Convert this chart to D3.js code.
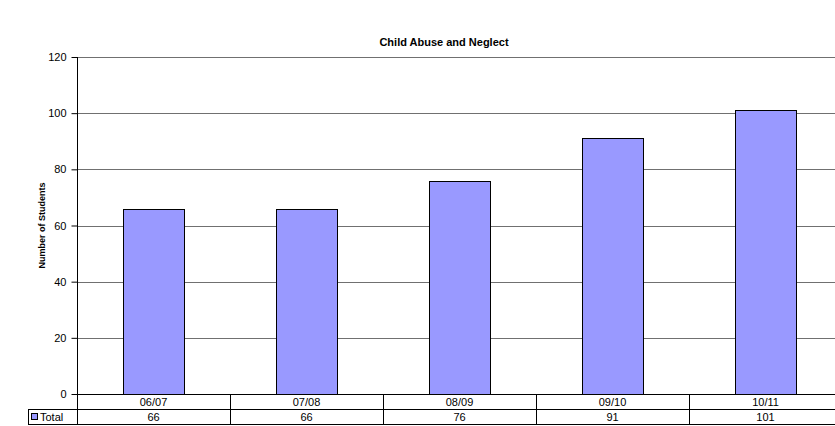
<!DOCTYPE html>
<html>
<head>
<meta charset="utf-8">
<script src="https://cdn.jsdelivr.net/npm/d3@7"></script>
<style>
  body { margin: 0; background: #fff; overflow: hidden; }
  svg { font-family: "Liberation Sans", Arial, sans-serif; }
</style>
</head>
<body>
<script>
var categories = ["06/07", "07/08", "08/09", "09/10", "10/11"];
var totals = [66, 66, 76, 91, 101];
var yTicks = [0, 20, 40, 60, 80, 100, 120];
var seriesName = "Total";

var W = 835, H = 426;
// plot area runs a little past the right edge, as in the original
var margin = {top: 57, right: -7, bottom: 32, left: 77},
    width = W - margin.left - margin.right,
    height = H - margin.top - margin.bottom;

var svg = d3.select("body").append("svg")
    .attr("width", W)
    .attr("height", H);

var g = svg.append("g")
    .attr("transform", "translate(" + margin.left + "," + margin.top + ")");

var x = d3.scaleBand()
    .domain(categories)
    .range([0, width])
    .paddingInner(0.6)
    .paddingOuter(0.3);

var xCol = d3.scaleBand()
    .domain(categories)
    .range([0, width]);

var y = d3.scaleLinear()
    .domain([0, 120])
    .range([height, 0]);

// title
svg.append("text")
    .attr("x", 444)
    .attr("y", 46)
    .attr("text-anchor", "middle")
    .style("font-size", "11px")
    .style("font-weight", "bold")
    .text("Child Abuse and Neglect");

// y axis title
svg.append("text")
    .attr("transform", "translate(45," + (margin.top + height / 2) + ") rotate(-90)")
    .attr("text-anchor", "middle")
    .style("font-size", "9px")
    .style("font-weight", "bold")
    .text("Number of Students");

// gridlines
g.selectAll(".grid")
    .data(yTicks.filter(d => d > 0))
    .enter()
    .append("line")
    .attr("class", "grid")
    .attr("x1", 0)
    .attr("x2", width)
    .attr("y1", d => Math.round(y(d)) + 0.5)
    .attr("y2", d => Math.round(y(d)) + 0.5)
    .attr("stroke", "#707070")
    .attr("stroke-width", 1);

// y axis
var yAxis = d3.axisLeft(y)
    .tickValues(yTicks)
    .tickSize(6)
    .tickPadding(5);

var yG = g.append("g")
    .attr("transform", "translate(0.5,0)")
    .call(yAxis);
yG.select(".domain").attr("d", "M0," + height + "V0").attr("stroke", "#000");
yG.selectAll(".tick line").attr("stroke", "#000");
yG.selectAll(".tick text")
    .style("font-size", "11px")
    .style("font-family", "Liberation Sans, Arial, sans-serif")
    .attr("fill", "#000");

// bars
g.selectAll(".bar")
    .data(totals)
    .enter()
    .append("rect")
    .attr("class", "bar")
    .attr("x", (d, i) => Math.round(x(categories[i])) + 0.5)
    .attr("y", d => Math.round(y(d)) + 0.5)
    .attr("width", Math.round(x.bandwidth()))
    .attr("height", d => Math.round(y(0)) - Math.round(y(d)))
    .attr("fill", "#9999FF")
    .attr("stroke", "#000")
    .attr("stroke-width", 1);

// data table
var rowH = 15;
var t = g.append("g").attr("transform", "translate(0," + height + ")");
var legendLeft = 28 - margin.left;

t.append("line")
    .attr("x1", 0).attr("x2", width)
    .attr("y1", 0.5).attr("y2", 0.5)
    .attr("stroke", "#000");
t.append("line")
    .attr("x1", legendLeft).attr("x2", width)
    .attr("y1", rowH + 0.5).attr("y2", rowH + 0.5)
    .attr("stroke", "#000");
t.append("line")
    .attr("x1", legendLeft).attr("x2", width)
    .attr("y1", rowH * 2 + 0.5).attr("y2", rowH * 2 + 0.5)
    .attr("stroke", "#000");
t.append("line")
    .attr("x1", legendLeft + 0.5).attr("x2", legendLeft + 0.5)
    .attr("y1", rowH).attr("y2", rowH * 2)
    .attr("stroke", "#000");

t.selectAll(".colline")
    .data(categories.slice(1))
    .enter()
    .append("line")
    .attr("class", "colline")
    .attr("x1", d => Math.round(xCol(d)) + 0.5)
    .attr("x2", d => Math.round(xCol(d)) + 0.5)
    .attr("y1", 0)
    .attr("y2", rowH * 2)
    .attr("stroke", "#000");
t.append("line")
    .attr("x1", 0.5).attr("x2", 0.5)
    .attr("y1", 0).attr("y2", rowH * 2)
    .attr("stroke", "#000");

t.selectAll(".cat")
    .data(categories)
    .enter()
    .append("text")
    .attr("x", d => xCol(d) + xCol.bandwidth() / 2)
    .attr("y", 11.5)
    .attr("text-anchor", "middle")
    .style("font-size", "11px")
    .text(d => d);

t.selectAll(".val")
    .data(totals)
    .enter()
    .append("text")
    .attr("x", (d, i) => xCol(categories[i]) + xCol.bandwidth() / 2)
    .attr("y", rowH + 11.5)
    .attr("text-anchor", "middle")
    .style("font-size", "11px")
    .text(d => d);

// legend key in table
t.append("rect")
    .attr("x", legendLeft + 3.5)
    .attr("y", rowH + 4.5)
    .attr("width", 6)
    .attr("height", 6)
    .attr("fill", "#9999FF")
    .attr("stroke", "#000");
t.append("text")
    .attr("x", legendLeft + 12)
    .attr("y", rowH + 11.5)
    .style("font-size", "11px")
    .text(seriesName);
</script>
</body>
</html>
